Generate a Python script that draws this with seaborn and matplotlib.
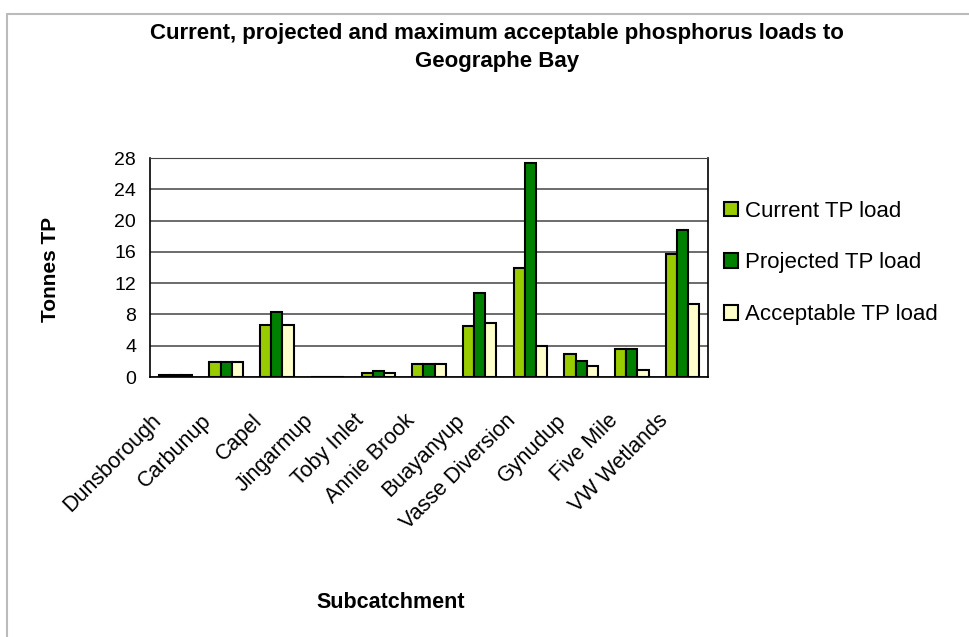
import pandas as pd
import numpy as np
import matplotlib
matplotlib.use("Agg")
import matplotlib.pyplot as plt
import matplotlib.transforms as mtransforms
from matplotlib.lines import Line2D
import seaborn as sns

subcatchments = ['Dunsborough', 'Carbunup', 'Capel', 'Jingarmup', 'Toby Inlet',
                 'Annie Brook', 'Buayanyup', 'Vasse Diversion', 'Gynudup',
                 'Five Mile', 'VW Wetlands']
current = [0.2, 1.9, 6.7, 0.0, 0.45, 1.7, 6.5, 14.0, 2.9, 3.6, 15.7]
projected = [0.2, 1.9, 8.3, 0.0, 0.75, 1.7, 10.7, 27.3, 2.1, 3.6, 18.8]
acceptable = [0.2, 1.9, 6.7, 0.0, 0.45, 1.7, 6.9, 4.0, 1.4, 0.95, 9.3]
series_names = ['Current TP load', 'Projected TP load', 'Acceptable TP load']
colors = ['#99CC00', '#008000', '#FFFFCC']

df = pd.DataFrame({'Subcatchment': subcatchments,
                   series_names[0]: current,
                   series_names[1]: projected,
                   series_names[2]: acceptable})
long = df.melt(id_vars='Subcatchment', var_name='Series', value_name='Tonnes')

sns.set_style('white')
plt.rcParams['font.family'] = ['Liberation Sans', 'DejaVu Sans']
plt.rcParams['text.color'] = 'black'
plt.rcParams['xtick.color'] = 'black'
plt.rcParams['ytick.color'] = 'black'

fig = plt.figure(figsize=(9.69, 6.37), dpi=100)
ax = fig.add_axes([150 / 969, 1 - 377 / 637, 558 / 969, (377 - 158) / 637])

sns.barplot(data=long, x='Subcatchment', y='Tonnes', hue='Series',
            hue_order=series_names, palette=colors, width=0.66,
            edgecolor='black', linewidth=1.5, saturation=1, ax=ax)

ax.set_ylim(0, 28)
ax.set_xlim(-0.5, len(subcatchments) - 0.5)
ax.set_yticks(np.arange(0, 29, 4))
ax.yaxis.grid(True, color='#444444', linewidth=1.1)
ax.set_axisbelow(True)
for s in ['left', 'bottom', 'right']:
    ax.spines[s].set_color('black')
    ax.spines[s].set_linewidth(1.2)
ax.spines['top'].set_color('#444444')

# category boundary ticks like Excel
ax.set_xticks(np.arange(-0.5, len(subcatchments)), minor=True)
ax.tick_params(axis='x', which='minor', length=6, width=1.2, color='black', direction='out')
ax.tick_params(axis='x', which='major', length=0, pad=24)
ax.tick_params(axis='y', length=6, width=1.2, color='black', direction='out', labelsize=14, pad=4)
ax.set_xticks(range(len(subcatchments)))
ax.set_xticklabels(subcatchments, rotation=45, ha='right', va='top',
                   rotation_mode='anchor', fontsize=15.5)
shift = mtransforms.ScaledTranslation(-25 / 100, 0, fig.dpi_scale_trans)
for lab in ax.get_xticklabels():
    lab.set_transform(lab.get_transform() + shift)

ax.set_xlabel('')
ax.set_ylabel('')
fig.text(50 / 969, 1 - 269 / 637, 'Tonnes TP', rotation=90, ha='center', va='center',
         fontsize=15, fontweight='bold')
fig.text(391 / 969, 1 - 603 / 637, 'Subcatchment', ha='center', va='center',
         fontsize=15.5, fontweight='bold')
fig.text(497 / 969, 1 - 34 / 637, 'Current, projected and maximum acceptable phosphorus loads to',
         ha='center', va='center', fontsize=16, fontweight='bold')
fig.text(497 / 969, 1 - 62 / 637, 'Geographe Bay', ha='center', va='center',
         fontsize=16, fontweight='bold')

handles, labels = ax.get_legend_handles_labels()
ax.legend(handles, labels, loc='center left', bbox_to_anchor=(704 / 969, 1 - 263 / 637),
          bbox_transform=fig.transFigure, frameon=False, fontsize=16,
          handlelength=0.65, handleheight=0.65, handletextpad=0.3, labelspacing=1.38)

# outer chart border (top and left edges visible)
fig.add_artist(Line2D([7 / 969, 7 / 969], [0, 1 - 14 / 637], color='#bbbbbb', linewidth=1.5))
fig.add_artist(Line2D([7 / 969, 1], [1 - 14 / 637, 1 - 14 / 637], color='#bbbbbb', linewidth=1.5))

fig.savefig('out.png', dpi=100)
